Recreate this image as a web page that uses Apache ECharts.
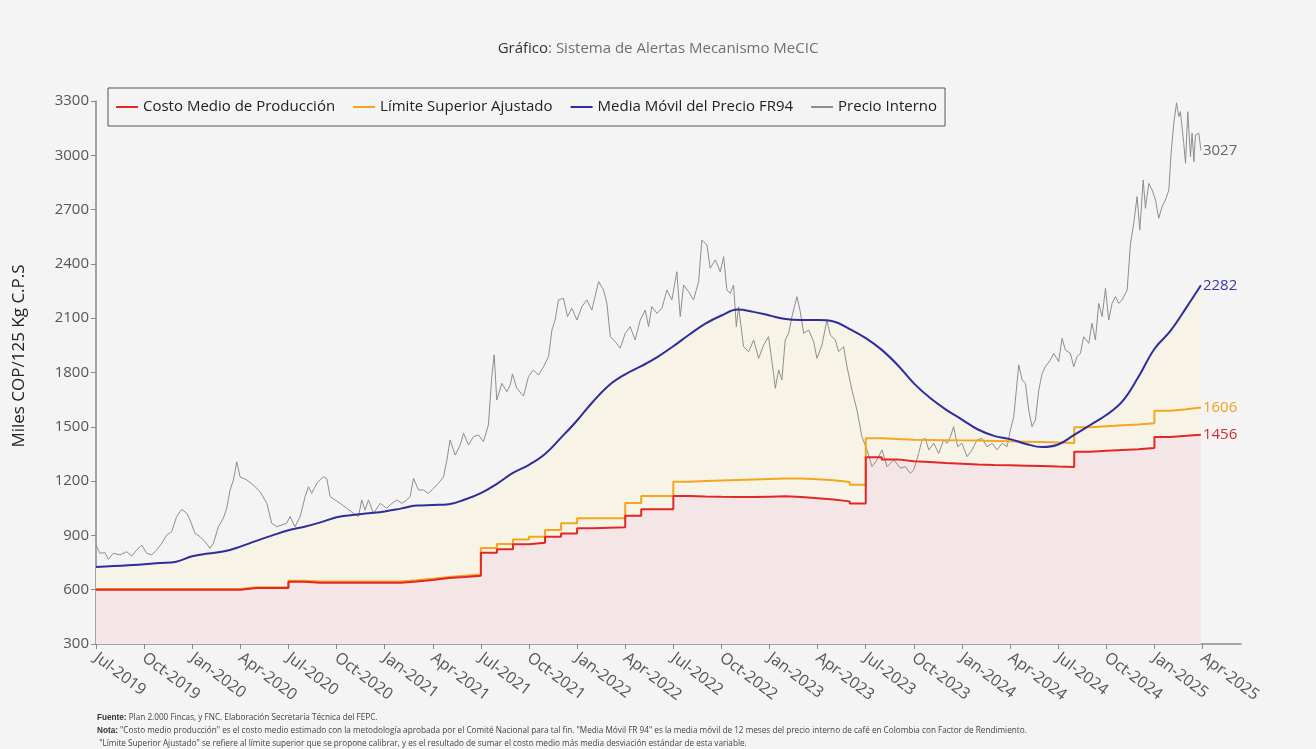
<!DOCTYPE html>
<html>
<head>
<meta charset="utf-8">
<script src="https://cdn.jsdelivr.net/npm/echarts@6/dist/echarts.min.js"></script>
<style>
  html, body { margin: 0; padding: 0; background: #f4f4f4; }
  #chart { width: 1316px; height: 749px; }
</style>
</head>
<body>
<div id="chart"></div>
<script>
// etiquetas trimestrales del eje x (mes 0 = Jul-2019)
const tickLabels = ['Jul-2019','Oct-2019','Jan-2020','Apr-2020','Jul-2020','Oct-2020','Jan-2021','Apr-2021',
  'Jul-2021','Oct-2021','Jan-2022','Apr-2022','Jul-2022','Oct-2022','Jan-2023','Apr-2023',
  'Jul-2023','Oct-2023','Jan-2024','Apr-2024','Jul-2024','Oct-2024','Jan-2025','Apr-2025'];
const tickMonths = tickLabels.map((_, i) => i * 3);
const END = 68.9; // ultimo dato

// valores mensuales (escalonados) desde Jul-2019
const costoMedio = [600,600,600,600,600,600,600,600,600, 609,609,609, 644, 639,639,639,639,639,639,
  645,654,664,670,677, 804,823,851,860,893,911, 939,942,945, 1009,1044,1044,
  1118,1115,1113,1112,1112,1114,1116,1112,1105,1098,1088,1076,
  1332,1320,1310,1305,1300,1296,1292,1289,1287,1285,1283,1280,1278,
  1362,1368,1372,1376,1383, 1444,1450,1456];
const limiteSuperior = [604,604,604,604,604,604,604,604,604, 613,613,613, 649, 645,645,645,645,645,645,
  652,660,670,677,684, 830,852,878,893,930,967, 995,995,995, 1079,1118,1118,
  1197,1200,1203,1206,1209,1212,1215,1214,1210,1205,1195,1180,
  1437,1432,1428,1427,1426,1425,1424,1422,1420,1418,1416,1413,1410,
  1497,1503,1508,1513,1519, 1589,1597,1606];

// media movil [mes, valor]
const mediaMovil = [[0,725],[2,735],[4,748],[5,755],[6,785],[7,800],[8,812],[9,838],[10,870],[11,900],
  [12,928],[13,948],[14,972],[15,1000],[16,1013],[17,1022],[18,1032],[19,1048],[20,1065],[21,1068],
  [22,1072],[23,1098],[24,1133],[25,1185],[26,1245],[27,1290],[28,1350],[29,1440],[30,1535],[31,1640],
  [32,1730],[33,1790],[34,1835],[35,1885],[36,1945],[37,2010],[38,2070],[39,2115],[40,2148],[41,2135],
  [42,2115],[43,2095],[44,2090],[45,2090],[46,2082],[47,2040],[48,1990],[49,1925],[50,1840],[51,1740],
  [52,1660],[53,1595],[54,1540],[55,1485],[56,1450],[57,1432],[58,1405],[59,1388],[60,1402],[61,1455],
  [62,1510],[63,1565],[64,1640],[65,1775],[66,1930],[67,2030],[68,2160],[68.9,2282]];

// precio interno [mes, valor]
const precioInterno = [[0,847],[0.25,801],[0.56,805],[0.77,768],[1.08,801],[1.5,792],[1.91,810],[2.23,786],
  [2.54,819],[2.85,847],[3.16,801],[3.47,792],[3.78,819],[4.1,856],[4.41,902],[4.72,921],[5.03,1004],
  [5.34,1044],[5.66,1022],[5.86,985],[6.18,911],[6.49,893],[6.8,865],[7.11,829],[7.32,856],[7.63,948],
  [7.94,994],[8.15,1050],[8.36,1151],[8.57,1206],[8.78,1307],[8.98,1224],[9.4,1206],[9.81,1178],
  [10.23,1142],[10.65,1077],[10.96,967],[11.27,948],[11.89,967],[12.1,1004],[12.41,948],[12.73,1004],
  [13.04,1114],[13.25,1169],[13.45,1132],[13.77,1188],[14.18,1224],[14.39,1215],[14.6,1114],[14.91,1096],
  [15.22,1077],[15.64,1050],[16.05,1022],[16.37,1004],[16.57,1096],[16.78,1040],[16.99,1096],[17.3,1022],
  [17.72,1077],[18.13,1050],[18.45,1077],[18.76,1096],[19.07,1077],[19.38,1096],[19.59,1114],[19.8,1215],
  [20.11,1151],[20.42,1151],[20.73,1132],[21.04,1160],[21.36,1188],[21.67,1224],[21.88,1317],[22.08,1427],
  [22.4,1344],[22.71,1400],[22.92,1464],[23.23,1400],[23.54,1446],[23.85,1455],[24.16,1418],[24.47,1510],
  [24.68,1777],[24.83,1897],[24.99,1648],[25.31,1740],[25.62,1694],[25.83,1731],[25.97,1792],[26.24,1713],
  [26.66,1670],[26.97,1777],[27.28,1814],[27.59,1786],[27.91,1832],[28.22,1888],[28.43,2035],[28.63,2090],
  [28.84,2201],[29.15,2210],[29.4,2109],[29.67,2155],[29.99,2090],[30.3,2164],[30.61,2201],[30.92,2145],
  [31.34,2302],[31.65,2256],[31.86,2182],[32.07,1998],[32.38,1970],[32.69,1934],[33.0,2016],[33.31,2053],
  [33.62,1980],[33.94,2090],[34.25,2145],[34.46,2053],[34.66,2164],[34.98,2127],[35.29,2155],[35.6,2256],
  [35.91,2201],[36.22,2357],[36.43,2109],[36.64,2283],[36.95,2247],[37.26,2201],[37.58,2302],[37.78,2532],
  [38.1,2504],[38.3,2376],[38.62,2422],[38.93,2357],[39.14,2440],[39.34,2256],[39.55,2237],[39.76,2283],
  [39.93,2053],[40.07,2164],[40.38,1943],[40.7,1915],[41.01,1980],[41.32,1878],[41.63,1952],[41.94,1998],
  [42.25,1795],[42.36,1713],[42.57,1814],[42.77,1759],[42.98,1980],[43.19,2016],[43.4,2109],[43.71,2219],
  [43.92,2136],[44.13,2016],[44.44,2035],[44.75,1970],[44.96,1878],[45.27,1952],[45.58,2090],[45.79,2007],
  [46.1,1980],[46.31,1915],[46.62,1943],[46.83,1832],[47.14,1703],[47.45,1593],[47.76,1446],[48.08,1372],
  [48.39,1280],[48.7,1317],[49.01,1372],[49.33,1280],[49.74,1317],[50.16,1271],[50.47,1280],[50.78,1243],
  [50.99,1261],[51.3,1353],[51.51,1427],[51.72,1436],[51.93,1372],[52.24,1409],[52.55,1353],[52.86,1427],
  [53.07,1409],[53.28,1446],[53.48,1501],[53.73,1390],[54.0,1409],[54.32,1335],[54.63,1372],[54.94,1427],
  [55.25,1436],[55.56,1390],[55.88,1409],[56.19,1372],[56.5,1409],[56.81,1390],[57.02,1482],[57.23,1556],
  [57.39,1703],[57.54,1842],[57.75,1759],[57.96,1740],[58.16,1593],[58.37,1501],[58.58,1538],[58.79,1703],
  [59.0,1795],[59.2,1832],[59.51,1869],[59.72,1906],[60.03,1860],[60.24,1989],[60.45,1924],[60.76,1906],
  [60.97,1832],[61.18,1888],[61.39,1906],[61.59,1998],[61.91,1961],[62.11,2072],[62.32,1980],[62.53,2182],
  [62.74,2109],[62.95,2265],[63.15,2090],[63.36,2182],[63.57,2219],[63.78,2182],[63.99,2201],[64.3,2256],
  [64.51,2514],[64.71,2624],[64.92,2772],[65.09,2587],[65.3,2864],[65.44,2707],[65.65,2845],[65.86,2808],
  [66.07,2753],[66.27,2652],[66.48,2716],[66.69,2753],[66.9,2808],[67.04,3011],[67.21,3177],[67.38,3290],
  [67.52,3214],[67.62,3241],[67.83,3066],[67.94,2956],[68.08,3241],[68.25,2993],[68.35,3122],[68.46,2965],
  [68.56,3112],[68.77,3122],[68.9,3027]];

const steps = (arr) => arr.map((v, i) => [i, v]).concat([[END, arr[arr.length - 1]]]);

const FONT = '"Open Sans", "Noto Sans", sans-serif';
const chart = echarts.init(document.getElementById('chart'));

const endLbl = (color) => ({
  show: true, color: color, fontFamily: FONT, fontSize: 15, distance: 2,
  formatter: (p) => String(p.value[1])
});

chart.setOption({
  backgroundColor: '#f4f4f4',
  animation: false,
  title: {
    text: '{b|Gráfico}{n|: Sistema de Alertas Mecanismo MeCIC}',
    left: 'center', top: 36,
    textStyle: {
      rich: {
        b: { fontFamily: FONT, fontSize: 15, color: '#333', fontWeight: 'normal' },
        n: { fontFamily: FONT, fontSize: 15, color: '#707070', fontWeight: 'normal' }
      }
    }
  },
  legend: {
    data: ['Costo Medio de Producción', 'Límite Superior Ajustado', 'Media Móvil del Precio FR94', 'Precio Interno'],
    left: 108, top: 88,
    padding: [9, 8, 9, 8],
    icon: 'rect', itemWidth: 22, itemHeight: 2, itemGap: 18,
    borderColor: '#555', borderWidth: 1,
    textStyle: { fontFamily: FONT, fontSize: 15, color: '#222', lineHeight: 20 }
  },
  grid: { left: 96, right: 75, top: 101, bottom: 105 },
  xAxis: {
    type: 'value', min: 0, max: 71.4,
    axisLine: { lineStyle: { color: '#8a8a8a', width: 1.5 } },
    axisTick: { customValues: tickMonths, length: 5, lineStyle: { color: '#8a8a8a' } },
    splitLine: { show: false },
    axisLabel: {
      customValues: tickMonths, rotate: -37, margin: 12,
      fontFamily: FONT, fontSize: 16, color: '#555',
      formatter: (v) => tickLabels[Math.round(v / 3)]
    }
  },
  yAxis: {
    type: 'value', min: 300, max: 3300, interval: 300,
    axisLine: { show: true, lineStyle: { color: '#8a8a8a', width: 1.5 } },
    axisTick: { show: true, length: 5, lineStyle: { color: '#8a8a8a' } },
    splitLine: { show: false },
    axisLabel: { fontFamily: FONT, fontSize: 15, color: '#555', margin: 7, formatter: (v) => String(v) }
  },
  series: [
    // rellenos
    { name: 'areaMedia', type: 'line', data: mediaMovil, smooth: 0.4, symbol: 'none', silent: true,
      lineStyle: { width: 0 }, areaStyle: { color: '#f7f4e7', opacity: 1 } },
    { name: 'areaCosto', type: 'line', data: steps(costoMedio), step: 'end', symbol: 'none', silent: true,
      lineStyle: { width: 0 }, areaStyle: { color: '#f4e6e6', opacity: 1 } },
    // lineas
    { name: 'Precio Interno', type: 'line', data: precioInterno, symbol: 'none',
      lineStyle: { color: '#8e8e8e', width: 1 }, itemStyle: { color: '#8e8e8e' },
      endLabel: endLbl('#666') },
    { name: 'Límite Superior Ajustado', type: 'line', data: steps(limiteSuperior), step: 'end', symbol: 'none',
      lineStyle: { color: '#f2a71e', width: 2 }, itemStyle: { color: '#f2a71e' },
      endLabel: endLbl('#f0a21a') },
    { name: 'Costo Medio de Producción', type: 'line', data: steps(costoMedio), step: 'end', symbol: 'none',
      lineStyle: { color: '#e32626', width: 2 }, itemStyle: { color: '#e32626' },
      endLabel: endLbl('#d82a2a') },
    { name: 'Media Móvil del Precio FR94', type: 'line', data: mediaMovil, smooth: 0.4, symbol: 'none',
      lineStyle: { color: '#2d2d9c', width: 2 }, itemStyle: { color: '#2d2d9c' },
      endLabel: endLbl('#3a3a9a') }
  ],
  graphic: [
    // titulo del eje y
    { type: 'text', x: 19, y: 356, rotation: Math.PI / 2, style: {
      text: 'Miles COP/125 Kg C.P.S', font: '17px ' + FONT, fill: '#222',
      align: 'center', verticalAlign: 'middle' } },
    { type: 'text', left: 97, top: 714, style: {
      text: '{b|Fuente:} Plan 2.000 Fincas, y FNC. Elaboración Secretaría Técnica del FEPC.',
      font: '8.2px ' + FONT, fill: '#444', rich: { b: { fontWeight: 'bold', fontSize: 8.2, fill: '#333' } } } },
    { type: 'text', left: 97, top: 727, style: {
      text: '{b|Nota:} "Costo medio producción" es el costo medio estimado con la metodología aprobada por el Comité Nacional para tal fin. "Media Móvil FR 94" es la media móvil de 12 meses del precio interno de café en Colombia con Factor de Rendimiento.',
      font: '8.2px ' + FONT, fill: '#444', rich: { b: { fontWeight: 'bold', fontSize: 8.2, fill: '#333' } } } },
    { type: 'text', left: 97, top: 740, style: {
      text: ' "Límite Superior Ajustado" se refiere al límite superior que se propone calibrar, y es el resultado de sumar el costo medio más media desviación estándar de esta variable.',
      font: '8.2px ' + FONT, fill: '#444' } }
  ]
});

window.onresize = () => chart.resize();
</script>
</body>
</html>
